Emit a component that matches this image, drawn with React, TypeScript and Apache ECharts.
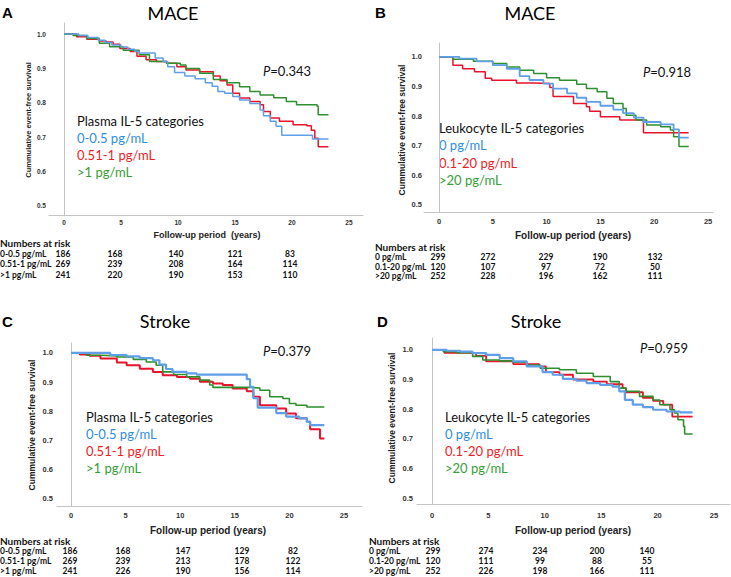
import React, { useEffect, useRef } from "react";
import * as echarts from "echarts";

// ---------- data ----------
const xTicks = [0, 5, 10, 15, 20, 25];
const yTicks = [0.5, 0.6, 0.7, 0.8, 0.9, 1.0];

const plasmaGroups = ["0-0.5 pg/mL", "0.51-1 pg/mL", ">1 pg/mL"];
const leukoGroups = ["0 pg/mL", "0.1-20 pg/mL", ">20 pg/mL"];

// Panel A: MACE, plasma IL-5
const macePlasmaLow = [[0,1],[1.3,0.996],[2.1,0.99],[3.0,0.982],[3.6,0.975],[4.2,0.968],[5.0,0.962],[5.6,0.956],[6.2,0.95],[6.6,0.945],[8.0,0.93],[8.7,0.92],[9.1,0.905],[9.7,0.888],[10.6,0.878],[11.5,0.87],[12.4,0.858],[13.0,0.848],[13.5,0.833],[14.1,0.828],[14.8,0.818],[15.4,0.808],[16.3,0.798],[17.2,0.779],[17.5,0.762],[18.1,0.746],[18.6,0.732],[19.1,0.706],[21.8,0.695],[23.2,0.695]];
const macePlasmaMid = [[0,1],[1.1,0.992],[2.0,0.985],[3.1,0.98],[3.7,0.977],[4.3,0.97],[4.9,0.958],[5.8,0.949],[6.4,0.935],[7.2,0.925],[8.1,0.92],[9.0,0.915],[9.9,0.905],[10.7,0.895],[11.9,0.89],[13.1,0.878],[13.7,0.864],[14.3,0.852],[14.8,0.828],[15.4,0.814],[16.3,0.804],[17.2,0.794],[17.5,0.775],[18.1,0.756],[18.9,0.746],[20.1,0.736],[21.3,0.733],[21.7,0.72],[22.0,0.697],[22.3,0.672],[23.2,0.672]];
const macePlasmaHigh = [[0,1],[0.8,0.996],[2.0,0.987],[3.1,0.973],[4.0,0.963],[5.2,0.953],[6.6,0.94],[7.5,0.92],[9.0,0.915],[10.2,0.91],[10.7,0.9],[11.9,0.886],[13.1,0.868],[14.3,0.858],[15.4,0.847],[16.3,0.833],[17.2,0.823],[18.4,0.815],[19.5,0.804],[20.4,0.794],[22.2,0.79],[22.3,0.765],[23.2,0.765]];

// Panel B: MACE, leukocyte IL-5
const maceLeukoLow = [[0,1],[1.9,0.994],[3.5,0.985],[5.0,0.972],[6.3,0.96],[7.5,0.935],[8.4,0.922],[9.7,0.91],[10.6,0.893],[11.9,0.877],[12.8,0.862],[13.7,0.848],[15.0,0.835],[16.2,0.822],[17.1,0.81],[18.1,0.795],[19.0,0.78],[20.6,0.772],[21.8,0.755],[22.3,0.727],[23.2,0.727]];
const maceLeukoMid = [[0,1],[1.3,0.972],[2.2,0.96],[3.3,0.95],[4.3,0.928],[4.9,0.921],[7.2,0.912],[8.8,0.91],[10.3,0.897],[10.6,0.866],[12.5,0.843],[13.7,0.832],[14.0,0.816],[15.0,0.798],[16.8,0.787],[19.0,0.744],[23.2,0.744]];
const maceLeukoHigh = [[0,1],[1.3,0.992],[3.2,0.985],[5.0,0.978],[6.3,0.966],[7.5,0.955],[8.8,0.944],[10.0,0.93],[11.2,0.921],[12.8,0.908],[13.7,0.893],[14.7,0.882],[15.6,0.86],[16.2,0.843],[17.1,0.826],[17.4,0.803],[18.3,0.787],[19.3,0.77],[20.6,0.764],[21.5,0.753],[21.8,0.73],[22.3,0.697],[23.2,0.697]];

// Panel C: stroke, plasma IL-5
const strokePlasmaLow = [[0,1],[3.6,0.993],[5.1,0.988],[6.3,0.982],[7.5,0.975],[8.1,0.96],[8.7,0.945],[9.3,0.935],[10.6,0.93],[11.5,0.926],[16.1,0.91],[16.4,0.884],[16.7,0.845],[17.1,0.813],[18.8,0.794],[19.7,0.782],[20.9,0.776],[21.6,0.764],[21.9,0.753],[23.2,0.753]];
const strokePlasmaMid = [[0,1],[0.8,0.995],[1.7,0.99],[2.7,0.981],[4.2,0.967],[5.1,0.958],[6.3,0.946],[7.5,0.935],[8.4,0.924],[9.7,0.918],[10.9,0.912],[11.8,0.901],[13.0,0.895],[13.9,0.89],[14.8,0.878],[16.1,0.869],[16.7,0.85],[17.3,0.821],[18.8,0.81],[19.7,0.793],[20.6,0.776],[21.6,0.764],[21.9,0.739],[22.8,0.707],[23.2,0.707]];
const strokePlasmaHigh = [[0,1],[1.4,0.992],[2.7,0.99],[4.2,0.986],[5.7,0.978],[6.9,0.969],[7.8,0.958],[8.4,0.935],[9.4,0.926],[10.6,0.918],[11.8,0.907],[12.7,0.89],[13.0,0.882],[16.4,0.88],[17.3,0.872],[18.2,0.85],[19.4,0.844],[20.0,0.827],[20.6,0.821],[21.6,0.815],[23.2,0.815]];

// Panel D: stroke, leukocyte IL-5
const strokeLeukoLow = [[0,1],[1.3,0.997],[2.5,0.994],[3.6,0.989],[4.8,0.983],[6.0,0.972],[7.2,0.961],[8.4,0.944],[9.8,0.925],[10.7,0.916],[11.6,0.902],[12.8,0.896],[13.7,0.888],[14.9,0.882],[16.0,0.876],[16.6,0.86],[17.1,0.831],[17.8,0.815],[18.7,0.807],[19.6,0.798],[20.8,0.792],[22.0,0.789],[23.1,0.789]];
const strokeLeukoMid = [[0,1],[1.1,0.99],[3.9,0.98],[4.8,0.961],[7.2,0.952],[9.5,0.944],[10.1,0.925],[11.3,0.916],[12.5,0.9],[14.3,0.893],[15.5,0.884],[16.9,0.871],[17.2,0.857],[18.7,0.838],[19.6,0.828],[20.5,0.815],[21.3,0.775],[23.1,0.775]];
const strokeLeukoHigh = [[0,1],[1.0,0.994],[2.2,0.99],[3.6,0.978],[4.5,0.966],[6.0,0.963],[7.2,0.958],[8.4,0.949],[9.6,0.938],[11.3,0.933],[12.8,0.921],[14.3,0.91],[15.8,0.893],[16.6,0.871],[17.2,0.86],[18.4,0.843],[19.6,0.831],[20.2,0.815],[21.1,0.798],[21.5,0.787],[21.8,0.764],[22.3,0.742],[22.4,0.716],[23.1,0.716]];

// Numbers at risk (at 0, 5, 10, 15, 20 years)
const riskA = [[186,168,140,121,83],[269,239,208,164,114],[241,220,190,153,110]];
const riskB = [[299,272,229,190,132],[120,107,97,72,50],[252,228,196,162,111]];
const riskC = [[186,168,147,129,82],[269,239,213,178,122],[241,226,190,156,114]];
const riskD = [[299,274,234,200,140],[120,111,99,88,55],[252,226,198,166,111]];

const pValues = ["0.343", "0.918", "0.379", "0.959"];

// ---------- styling / layout ----------
const LINE = ["#5f9fe8", "#e8132d", "#2f8f2f"];
const TXT = ["#2f8ddf", "#ee1c25", "#35a035"];
const CAL = "Lato, 'Open Sans', sans-serif";
const ARIAL = "'Liberation Sans', Arial, sans-serif";

const panels = [
  { letter: "A", title: "MACE", lx: 2, ly: 12, tx: 173, ty: 13,
    grid: { left: 49, top: 23, width: 314, height: 192 }, xmin: -1.316, xmax: 26.23, ymin: 0.4738, ymax: 1.032,
    ylabFs: 6.5, ylabM: 3, xlabM: 4, ytitle: { x: 28, y: 120, fs: 7.5 }, xtitle: { x: 207, y: 235, fs: 9, text: "Follow-up period  (years)" },
    p: { x: 263, y: 71 }, legend: { x: 77, y: 121, dy: 17, title: "Plasma IL-5 categories" }, groups: plasmaGroups,
    series: [macePlasmaLow, macePlasmaMid, macePlasmaHigh], risk: riskA,
    table: { x: 0, y: 243, dy: 10.5, cols: [63, 115, 176, 235, 290] }, lw: [1.5, 1.5, 1.5] },
  { letter: "B", title: "MACE", lx: 375, ly: 12, tx: 530, ty: 13,
    grid: { left: 424, top: 43, width: 289, height: 169 }, xmin: -1.39, xmax: 25.46, ymin: 0.476, ymax: 1.047,
    ylabFs: 7.5, ylabM: 2, xlabM: 5, ytitle: { x: 402, y: 130, fs: 8.5 }, xtitle: { x: 573, y: 235, fs: 10, text: "Follow-up period (years)" },
    p: { x: 643, y: 72 }, legend: { x: 439, y: 128, dy: 17.3, title: "Leukocyte IL-5 categories" }, groups: leukoGroups,
    series: [maceLeukoLow, maceLeukoMid, maceLeukoHigh], risk: riskB,
    table: { x: 375, y: 247, dy: 9.8, cols: [438, 488, 546, 600, 655] }, lw: [1.8, 1.5, 1.5] },
  { letter: "C", title: "Stroke", lx: 2, ly: 321, tx: 165, ty: 321,
    grid: { left: 57, top: 343, width: 305, height: 163 }, xmin: -1.28, xmax: 26.65, ymin: 0.476, ymax: 1.034,
    ylabFs: 7.5, ylabM: 4, xlabM: 5, ytitle: { x: 32, y: 425, fs: 8.5 }, xtitle: { x: 208, y: 530, fs: 10, text: "Follow-up period (years)" },
    p: { x: 263, y: 351 }, legend: { x: 86, y: 417, dy: 17, title: "Plasma IL-5 categories" }, groups: plasmaGroups,
    series: [strokePlasmaLow, strokePlasmaMid, strokePlasmaHigh], risk: riskC,
    table: { x: 0, y: 541, dy: 10, cols: [70, 123, 183, 242, 293] }, lw: [2.2, 2, 1.6] },
  { letter: "D", title: "Stroke", lx: 377, ly: 321, tx: 536, ty: 321,
    grid: { left: 417, top: 338, width: 313, height: 166 }, xmin: -1.33, xmax: 26.42, ymin: 0.48, ymax: 1.04,
    ylabFs: 7.5, ylabM: 4, xlabM: 7, ytitle: { x: 392, y: 418, fs: 8.5 }, xtitle: { x: 573, y: 530, fs: 10, text: "Follow-up period (years)" },
    p: { x: 640, y: 348 }, legend: { x: 445, y: 417, dy: 17, title: "Leukocyte IL-5 categories" }, groups: leukoGroups,
    series: [strokeLeukoLow, strokeLeukoMid, strokeLeukoHigh], risk: riskD,
    table: { x: 369, y: 541, dy: 10, cols: [433, 486, 540, 597, 647] }, lw: [2.2, 1.8, 1.6] },
];

function buildOption() {
  const grid: any[] = [];
  const xAxis: any[] = [];
  const yAxis: any[] = [];
  const series: any[] = [];
  const graphic: any[] = [];

  panels.forEach((p, i) => {
    grid.push({ ...p.grid, containLabel: false });
    xAxis.push({
      gridIndex: i, type: "value", min: p.xmin, max: p.xmax,
      axisLine: { show: true, lineStyle: { color: "#c4c4c4", width: 1 } },
      axisTick: { show: false }, splitLine: { show: false },
      axisLabel: { customValues: xTicks, margin: p.xlabM, fontSize: p.ylabFs, fontWeight: "bold", color: "#333", fontFamily: ARIAL, formatter: (v: number) => String(v) },
    });
    yAxis.push({
      gridIndex: i, type: "value", min: p.ymin, max: p.ymax,
      axisLine: { show: true, lineStyle: { color: "#c4c4c4", width: 1 } },
      axisTick: { show: false }, splitLine: { show: false },
      axisLabel: { customValues: yTicks, margin: p.ylabM, fontSize: p.ylabFs, fontWeight: "bold", color: "#333", fontFamily: ARIAL, formatter: (v: number) => v.toFixed(1) },
    });
    p.series.forEach((d, k) => {
      series.push({
        type: "line", xAxisIndex: i, yAxisIndex: i, data: d, step: "end",
        showSymbol: false, symbol: "none", z: k === 0 ? 3 : 2,
        lineStyle: { color: LINE[k], width: p.lw[k] },
      });
    });

    graphic.push({ type: "text", x: p.lx, y: p.ly, style: { text: p.letter, fontFamily: ARIAL, fontWeight: "bold", fontSize: 15, fill: "#000", align: "left", verticalAlign: "middle" } });
    graphic.push({ type: "text", x: p.tx, y: p.ty, style: { text: p.title, fontFamily: CAL, fontSize: 18, fill: "#000", align: "center", verticalAlign: "middle" } });
    graphic.push({ type: "text", x: p.p.x, y: p.p.y, style: { text: "{i|P}=" + pValues[i], rich: { i: { fontStyle: "italic", fontFamily: CAL, fontSize: 13, fill: "#111" } }, fontFamily: CAL, fontSize: 13, fill: "#111", align: "left", verticalAlign: "middle" } });
    graphic.push({ type: "text", x: p.legend.x, y: p.legend.y, style: { text: p.legend.title, fontFamily: CAL, fontSize: 13, fill: "#111", align: "left", verticalAlign: "middle" } });
    p.groups.forEach((g, k) => {
      graphic.push({ type: "text", x: p.legend.x, y: p.legend.y + p.legend.dy * (k + 1), style: { text: g, fontFamily: CAL, fontSize: 13, fill: TXT[k], align: "left", verticalAlign: "middle" } });
    });
    graphic.push({ type: "text", x: p.ytitle.x, y: p.ytitle.y, rotation: Math.PI / 2, style: { text: "Cummulative event-free survival", fontFamily: ARIAL, fontWeight: "bold", fontSize: p.ytitle.fs, fill: "#222", align: "center", verticalAlign: "middle" } });
    graphic.push({ type: "text", x: p.xtitle.x, y: p.xtitle.y, style: { text: p.xtitle.text, fontFamily: ARIAL, fontWeight: "bold", fontSize: p.xtitle.fs, fill: "#222", align: "center", verticalAlign: "middle" } });

    const t = p.table;
    graphic.push({ type: "text", x: t.x, y: t.y, style: { text: "Numbers at risk", fontFamily: CAL, fontWeight: "bold", fontSize: 10, fill: "#111", align: "left", verticalAlign: "middle" } });
    p.groups.forEach((g, k) => {
      const yy = t.y + t.dy * (k + 1);
      graphic.push({ type: "text", x: t.x, y: yy, style: { text: g, fontFamily: CAL, fontWeight: "bold", fontSize: 8.5, fill: "#111", align: "left", verticalAlign: "middle" } });
      p.risk[k].forEach((n, c) => {
        graphic.push({ type: "text", x: t.cols[c], y: yy, style: { text: String(n), fontFamily: CAL, fontWeight: "bold", fontSize: 8.5, fill: "#111", align: "center", verticalAlign: "middle" } });
      });
    });
  });

  return { animation: false, backgroundColor: "#fff", grid, xAxis, yAxis, series, graphic };
}

export default function App() {
  const ref = useRef<HTMLDivElement>(null);
  useEffect(() => {
    if (!ref.current) return;
    const chart = echarts.init(ref.current, null, { renderer: "svg" });
    chart.setOption(buildOption() as any);
    return () => chart.dispose();
  }, []);
  return <div ref={ref} style={{ position: "fixed", left: 0, top: 0, width: 731, height: 577, background: "#fff" }} />;
}
